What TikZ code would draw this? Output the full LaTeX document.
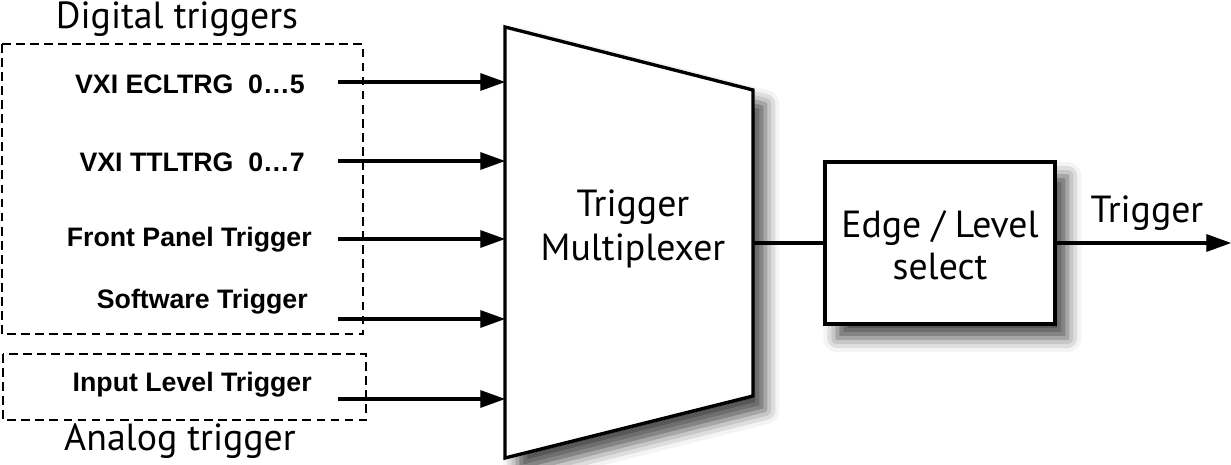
\documentclass[tikz,border=0pt]{standalone}
\usepackage{fontspec}
\setmainfont{PT Sans}
\newfontfamily\lblfont{Liberation Sans}
\usetikzlibrary{arrows.meta,shadows.blur}
\begin{document}
\begin{tikzpicture}[x=0.02cm,y=-0.02cm,
  title/.style={font=\fontsize{21.5}{25}\selectfont, inner sep=0pt},
  lbl/.style={font=\lblfont\bfseries\fontsize{15.2}{18}\selectfont, anchor=east, inner sep=0pt},
  grp/.style={draw=black, line width=1.6pt, dash pattern=on 5pt off 3pt},
  wire/.style={line width=1.9pt},
  arr/.style={wire, -{Triangle[length=14pt,width=10pt,fill=black,line width=0.6pt]}},
  shad/.style={blur shadow={shadow xshift=7pt, shadow yshift=-8pt, shadow blur radius=8pt, shadow opacity=70}},
  block/.style={draw, line width=1.9pt, fill=white, shad}
]
\useasboundingbox (0,0) rectangle (1231,465);

% group boxes
\draw[grp] (2,44) rectangle (363,334);
\draw[grp] (3,354) rectangle (366,420);
\node[title] (dig) at (177,19) {Digital triggers};
\node[title] (ana) at (180,441) {Analog trigger};

% labels
\node[lbl] (l1) at (305,84) {VXI ECLTRG\ \ 0…5};
\node[lbl] (l2) at (305,162) {VXI TTLTRG\ \ 0…7};
\node[lbl] (l3) at (312,240) {Front Panel Trigger};
\node[lbl] (l4) at (308,302) {Software Trigger};
\node[lbl] (l5) at (312,385) {Input Level Trigger};

% multiplexer
\coordinate (mtl) at (505,27);
\coordinate (mbl) at (505,458);
\coordinate (mtr) at (753,90);
\coordinate (mbr) at (753,396);
\filldraw[block, line join=miter] (mtl) -- (mtr) -- (mbr) -- (mbl) -- cycle;
\node[title, align=center] (mux) at (633,229) {Trigger\\Multiplexer};
\coordinate (mout) at (753,243);

% inputs
\foreach \y [count=\i] in {82,161,239,319,399}{
  \coordinate (s\i) at (338,\y);
  \coordinate (e\i) at (505,\y);
  \draw[arr] (s\i) -- (e\i);
}

% edge/level select
\node[block, minimum width=4.6cm, minimum height=3.24cm, inner sep=0pt] (sel) at (940,243) {};
\node[title, align=center] (selt) at (940,245) {Edge / Level\\[-1pt]select};
\coordinate (outp) at (1231,243);
\draw[wire] (mout) -- (sel.west);
\draw[arr] (sel.east) -- (outp);
\node[title] (trg) at (1147,213) {Trigger};
\end{tikzpicture}
\end{document}
